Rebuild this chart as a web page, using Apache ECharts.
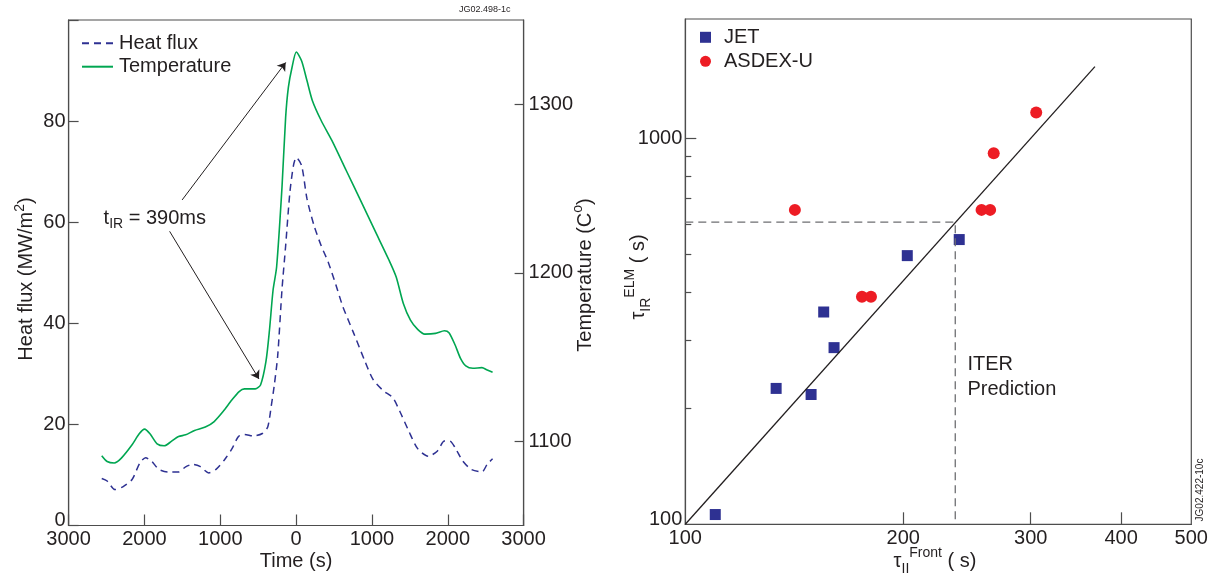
<!DOCTYPE html>
<html>
<head>
<meta charset="utf-8">
<title>Divertor heat flux and ELM energy deposition time</title>
<script src="https://cdn.jsdelivr.net/npm/echarts@6/dist/echarts.min.js"></script>
<style>
  html, body { margin: 0; padding: 0; background: #fff; }
  #chart { width: 1216px; height: 578px; }
</style>
</head>
<body>
<div id="chart"></div>
<script>
// Left panel: IR heat flux and surface temperature during one ELM
const fluxTime = [-2563,-2492,-2389,-2280,-2163,-2059,-1984,-1904,-1810,-1692,-1550,-1457,-1363,-1268,-1151,-1056,-939,-845,-760,-681,-562,-445,-374,-328,-289,-243,-186,-138,-82,-35,3,73,144,237,332,426,544,614,755,897,1014,1155,1274,1367,1485,1603,1744,1861,1956,2026,2097,2191,2309,2450,2520,2591];
const fluxValue = [9.3,8.8,7.1,7.7,9.1,12.4,13.4,12.7,11.1,10.6,10.6,11.6,12.1,11.7,10.4,11.1,13.1,15.2,17.6,18.0,17.7,18.2,19.5,23.6,27.6,33.5,46.7,55.3,65.9,71.2,72.8,71.2,64.6,59.3,55.3,52.0,46.7,43.4,38.2,32.9,28.9,26.6,25.3,22.6,18.7,15.2,13.7,14.7,16.7,16.7,15.4,12.9,11.1,10.6,12.1,13.2];
const tempTime = [-2563,-2492,-2398,-2304,-2163,-2069,-1998,-1927,-1833,-1739,-1645,-1550,-1457,-1339,-1197,-1080,-963,-845,-751,-681,-539,-469,-398,-351,-304,-257,-186,-138,-102,-54,3,73,144,215,332,473,661,850,1038,1226,1320,1414,1508,1603,1697,1838,1956,2016,2097,2168,2238,2332,2450,2520,2591];
const tempValue = [1091.4,1088.0,1087.1,1090.0,1097.9,1104.4,1107.2,1104.4,1098.5,1097.3,1099.9,1102.8,1103.8,1106.4,1108.4,1111.7,1117.6,1124.6,1129.5,1131.1,1131.1,1133.4,1147.2,1166.0,1189.6,1203.4,1250.8,1292.2,1310.0,1321.8,1331.0,1325.7,1313.9,1302.1,1290.2,1278.4,1260.7,1242.9,1225.1,1207.4,1197.5,1181.8,1171.9,1166.4,1163.6,1164.0,1165.6,1164.4,1157.1,1149.2,1144.7,1143.3,1143.7,1142.3,1140.9];
const tempTicks = [1100, 1200, 1300];
// arrows from the t_IR label: [startTime, startFlux, endTime, endFlux]
const arrowUp = [-1503, 64.4, -137, 91.6];
const arrowDown = [-1668, 58.2, -490, 29.0];

// Right panel: tau_IR^ELM against tau_||^Front
const jetFront = [110, 133.5, 149.2, 155.3, 160.5, 202.6, 239];
const jetElm = [106, 225, 217, 355, 287, 497, 547];
const asdexFront = [141.7, 175.4, 180.5, 256.6, 263.7, 266.7, 305.3];
const asdexElm = [653, 389, 389, 653, 653, 916, 1168];
const fitFront = [100, 368];
const fitElm = [100, 1535];
const iterFront = 236;
const iterElm = 607;
const frontTicks = [100, 200, 300, 400, 500];
const elmTicks = [100, 1000];
const elmMinorTicks = [200, 300, 400, 500, 600, 700, 800, 900];

const FONT = '"Liberation Sans", Arial, Helvetica, sans-serif';
const INK = '#231f20';
const FRAME = '#4d4d4d';

const zip = (a, b) => a.map((v, i) => [v, b[i]]);

const chart = echarts.init(document.getElementById('chart'), null, { renderer: 'canvas' });

const tickLabel = { color: INK, fontSize: 20, fontFamily: FONT };
const frameLine = { show: true, onZero: false, lineStyle: { color: FRAME, width: 1.2 } };
const plain = v => String(Math.round(Math.abs(v)));
// the lowest label of a vertical axis sits a little above its corner
const lowRich = { lo: { fontSize: 20, fontFamily: FONT, color: INK, padding: [0, 0, 10, 0] } };

const option = {
  animation: false,
  backgroundColor: '#ffffff',
  textStyle: { fontFamily: FONT, color: INK },
  grid: [
    { left: 68.6, top: 20, width: 455, height: 505.5, show: true, borderColor: FRAME, borderWidth: 1.2, backgroundColor: 'transparent' },
    { left: 685.3, top: 19, width: 506, height: 505.3, show: true, borderColor: FRAME, borderWidth: 1.2, backgroundColor: 'transparent' }
  ],
  legend: [
    {
      left: 81, top: 33.3, padding: 0, orient: 'vertical', itemWidth: 31, itemHeight: 14, itemGap: 3.4,
      itemStyle: { color: 'transparent', borderColor: 'transparent', borderWidth: 0 },
      textStyle: { fontSize: 20, color: INK, fontFamily: FONT, lineHeight: 20, padding: [0, 0, 0, 1] },
      data: ['Heat flux', 'Temperature']
    },
    {
      left: 700, top: 27.3, padding: 0, orient: 'vertical', itemWidth: 11, itemHeight: 11, itemGap: 4,
      textStyle: { fontSize: 20, color: INK, fontFamily: FONT, lineHeight: 20, padding: [0, 0, 0, 8] },
      data: ['JET', 'ASDEX-U']
    }
  ],
  xAxis: [
    {
      gridIndex: 0, type: 'value', min: -3000, max: 3000, interval: 1000,
      axisLine: frameLine,
      axisTick: { inside: true, length: 11, lineStyle: { color: FRAME, width: 1.2 } },
      axisLabel: Object.assign({ margin: 4, formatter: plain }, tickLabel),
      splitLine: { show: false }
    },
    {
      gridIndex: 1, type: 'log', logBase: 10, min: 100, max: 500,
      axisLine: frameLine,
      axisTick: { inside: true, length: 12, customValues: [200, 300, 400], lineStyle: { color: FRAME, width: 1.2 } },
      axisLabel: Object.assign({ margin: 4, customValues: frontTicks, formatter: plain }, tickLabel),
      splitLine: { show: false }, minorTick: { show: false }
    }
  ],
  yAxis: [
    {
      gridIndex: 0, type: 'value', min: 0, max: 100, interval: 20, position: 'left',
      axisLine: frameLine,
      axisTick: { inside: true, length: 10, lineStyle: { color: FRAME, width: 1.2 } },
      axisLabel: Object.assign({
        margin: 3, rich: lowRich,
        formatter: v => (v >= 100 ? '' : v === 0 ? '{lo|0}' : String(v))
      }, tickLabel),
      splitLine: { show: false }
    },
    {
      gridIndex: 0, type: 'value', min: 1050, max: 1350, position: 'right',
      axisLine: frameLine,
      axisTick: { inside: true, length: 9, customValues: tempTicks, lineStyle: { color: FRAME, width: 1.2 } },
      axisLabel: Object.assign({ margin: 5, customValues: tempTicks, formatter: plain }, tickLabel),
      splitLine: { show: false }
    },
    {
      gridIndex: 1, type: 'log', logBase: 10, min: 100, max: 2040, position: 'left',
      axisLine: frameLine,
      axisTick: { inside: true, length: 6, customValues: elmMinorTicks, lineStyle: { color: FRAME, width: 1.2 } },
      axisLabel: Object.assign({
        margin: 3, customValues: elmTicks, rich: lowRich,
        formatter: v => (Math.round(v) === elmTicks[0] ? '{lo|' + plain(v) + '}' : plain(v))
      }, tickLabel),
      splitLine: { show: false }, minorTick: { show: false }
    },
    {
      // longer tick at the decade mark
      gridIndex: 1, type: 'log', logBase: 10, min: 100, max: 2040, position: 'left',
      axisLine: { show: false, onZero: false },
      axisTick: { inside: true, length: 11, customValues: [1000], lineStyle: { color: FRAME, width: 1.2 } },
      axisLabel: { show: false },
      splitLine: { show: false }, minorTick: { show: false }
    }
  ],
  series: [
    {
      name: 'Heat flux', type: 'line', xAxisIndex: 0, yAxisIndex: 0,
      data: zip(fluxTime, fluxValue), symbol: 'none', smooth: 0.25,
      itemStyle: { color: '#2e3192' },
      lineStyle: { color: '#2e3192', width: 1.5, type: [7, 5] },
      markLine: {
        silent: true, symbol: ['none', 'arrow'], symbolSize: 8,
        lineStyle: { color: INK, width: 1, type: 'solid' },
        label: { show: false },
        data: [
          [{ coord: [arrowUp[0], arrowUp[1]] }, { coord: [arrowUp[2], arrowUp[3]] }],
          [{ coord: [arrowDown[0], arrowDown[1]] }, { coord: [arrowDown[2], arrowDown[3]] }]
        ]
      }
    },
    {
      name: 'Temperature', type: 'line', xAxisIndex: 0, yAxisIndex: 1,
      data: zip(tempTime, tempValue), symbol: 'none', smooth: 0.25,
      itemStyle: { color: '#00a651' },
      lineStyle: { color: '#00a651', width: 1.6 }
    },
    {
      name: 'ITER guide', type: 'line', xAxisIndex: 1, yAxisIndex: 2,
      data: [[fitFront[0], iterElm], [iterFront, iterElm], [iterFront, elmTicks[0]]],
      symbol: 'none', silent: true,
      lineStyle: { color: '#6d6e71', width: 1.3, type: [8, 5] }
    },
    {
      name: 'Fit', type: 'line', xAxisIndex: 1, yAxisIndex: 2,
      data: zip(fitFront, fitElm), symbol: 'none', silent: true,
      lineStyle: { color: INK, width: 1.3 }
    },
    {
      name: 'JET', type: 'scatter', xAxisIndex: 1, yAxisIndex: 2,
      data: zip(jetFront, jetElm), symbol: 'rect', symbolSize: 11,
      itemStyle: { color: '#2e3192', opacity: 1 }
    },
    {
      name: 'ASDEX-U', type: 'scatter', xAxisIndex: 1, yAxisIndex: 2,
      data: zip(asdexFront, asdexElm), symbol: 'circle', symbolSize: 12,
      itemStyle: { color: '#ed1c24', opacity: 1 }
    }
  ],
  graphic: [
    {
      type: 'text', x: 103.6, y: 218,
      style: {
        text: '{a|t}{s|IR}{a| = 390ms}', verticalAlign: 'middle', fill: INK,
        rich: {
          a: { fontSize: 20, fontFamily: FONT, lineHeight: 26, verticalAlign: 'middle', fill: INK },
          s: { fontSize: 14, fontFamily: FONT, lineHeight: 14, verticalAlign: 'bottom', fill: INK }
        }
      }
    },
    {
      type: 'text', x: 26.7, y: 279, rotation: Math.PI / 2,
      style: {
        text: '{a|Heat flux (MW/m}{p|2}{a|)}', align: 'center', verticalAlign: 'middle', fill: INK,
        rich: {
          a: { fontSize: 20, fontFamily: FONT, lineHeight: 28, verticalAlign: 'middle', fill: INK },
          p: { fontSize: 14, fontFamily: FONT, lineHeight: 14, verticalAlign: 'top', fill: INK }
        }
      }
    },
    {
      type: 'text', x: 585, y: 275, rotation: Math.PI / 2,
      style: {
        text: '{a|Temperature (C}{p|o}{a|)}', align: 'center', verticalAlign: 'middle', fill: INK,
        rich: {
          a: { fontSize: 20, fontFamily: FONT, lineHeight: 28, verticalAlign: 'middle', fill: INK },
          p: { fontSize: 14, fontFamily: FONT, lineHeight: 14, verticalAlign: 'top', fill: INK }
        }
      }
    },
    {
      type: 'text', x: 296, y: 561,
      style: { text: 'Time (s)', align: 'center', verticalAlign: 'middle', fill: INK, fontSize: 20, fontFamily: FONT }
    },
    {
      type: 'text', x: 638, y: 277, rotation: Math.PI / 2,
      style: {
        text: '{a|τ}{s|IR}{p|ELM}{a| ( s)}', align: 'center', verticalAlign: 'middle', fill: INK,
        rich: {
          a: { fontSize: 20, fontFamily: FONT, lineHeight: 30, verticalAlign: 'middle', fill: INK },
          s: { fontSize: 14, fontFamily: FONT, lineHeight: 14, verticalAlign: 'bottom', fill: INK },
          p: { fontSize: 14, fontFamily: FONT, lineHeight: 14, verticalAlign: 'top', fill: INK }
        }
      }
    },
    {
      type: 'text', x: 935, y: 561,
      style: {
        text: '{a|τ}{s|II}{p|Front}{a| ( s)}', align: 'center', verticalAlign: 'middle', fill: INK,
        rich: {
          a: { fontSize: 20, fontFamily: FONT, lineHeight: 30, verticalAlign: 'middle', fill: INK },
          s: { fontSize: 14, fontFamily: FONT, lineHeight: 14, verticalAlign: 'bottom', fill: INK },
          p: { fontSize: 14, fontFamily: FONT, lineHeight: 14, verticalAlign: 'top', fill: INK }
        }
      }
    },
    {
      type: 'text', x: 967.4, y: 376.5,
      style: { text: 'ITER\nPrediction', verticalAlign: 'middle', fill: INK, fontSize: 20, fontFamily: FONT, lineHeight: 25 }
    },
    {
      type: 'text', x: 459, y: 10,
      style: { text: 'JG02.498-1c', verticalAlign: 'middle', fill: INK, fontSize: 9, fontFamily: FONT }
    },
    {
      type: 'text', x: 1200, y: 490, rotation: Math.PI / 2,
      style: { text: 'JG02.422-10c', align: 'center', verticalAlign: 'middle', fill: INK, fontSize: 10, fontFamily: FONT }
    }
  ]
};

chart.setOption(option);
</script>
</body>
</html>
